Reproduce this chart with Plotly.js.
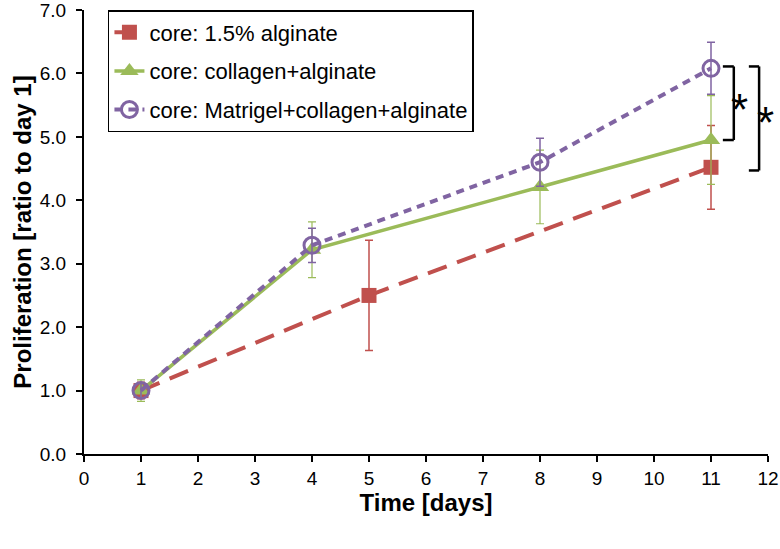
<!DOCTYPE html>
<html>
<head>
<meta charset="utf-8">
<script src="https://cdn.plot.ly/plotly-3.0.1.min.js"></script>
<style>html,body{margin:0;padding:0;background:#fff;}#chart{width:780px;height:549px;}</style>
</head>
<body>
<div id="chart"></div>
<script>
const seriesNames = ["core: 1.5% alginate", "core: collagen+alginate", "core: Matrigel+collagen+alginate"];
const alginateDays = [1, 5, 11];
const alginateValues = [1.0, 2.50, 4.52];
const alginateErrors = [0.13, 0.87, 0.66];
const collagenDays = [1, 4, 8, 11];
const collagenValues = [1.0, 3.22, 4.21, 4.95];
const collagenErrors = [0.17, 0.44, 0.58, 0.70];
const matrigelDays = [1, 4, 8, 11];
const matrigelValues = [1.0, 3.29, 4.60, 6.08];
const matrigelErrors = [0.12, 0.27, 0.38, 0.41];
const xTicks = [0,1,2,3,4,5,6,7,8,9,10,11,12];
const yTicks = [0,1,2,3,4,5,6,7];
const yTickLabels = ["0.0","1.0","2.0","3.0","4.0","5.0","6.0","7.0"];

const red = "#C0504D", green = "#9BBB59", purple = "#8064A2";
const font = "Arial, 'Liberation Sans', sans-serif";

const traces = [
  {x: alginateDays, y: alginateValues, name: seriesNames[0], legendgroup: "a",
   type: "scatter", mode: "lines+markers",
   line: {color: red, width: 4, dash: "20px,11px"},
   marker: {symbol: "square", size: 15, color: red},
   error_y: {type: "data", array: alginateErrors, visible: true, color: red, thickness: 1.5, width: 4}},
  {x: collagenDays, y: collagenValues, name: seriesNames[1], legendgroup: "b",
   type: "scatter", mode: "lines+markers",
   line: {color: green, width: 3.5},
   marker: {symbol: "triangle-up", size: 16, color: green},
   error_y: {type: "data", array: collagenErrors, visible: true, color: green, thickness: 1.2, width: 4}},
  {x: matrigelDays, y: matrigelValues, name: seriesNames[2], legendgroup: "c",
   type: "scatter", mode: "lines+markers",
   line: {color: purple, width: 4, dash: "8px,6px"},
   marker: {symbol: "circle-open", size: 16, color: purple, line: {width: 3, color: purple}},
   error_y: {type: "data", array: matrigelErrors, visible: true, color: purple, thickness: 1.5, width: 4}}
];

const topY = matrigelValues[3];
const midY = collagenValues[3];
const lowY = alginateValues[2];
const bl = {color: "black", width: 2.5};
function bracket(x0, x1, y0, y1) {
  return [
    {type: "line", xref: "paper", yref: "y", x0: x0, x1: x1, y0: y0, y1: y0, line: bl},
    {type: "line", xref: "paper", yref: "y", x0: x1, x1: x1, y0: y0, y1: y1, line: bl},
    {type: "line", xref: "paper", yref: "y", x0: x0, x1: x1, y0: y1, y1: y1, line: bl}
  ];
}
const allShapes = [].concat(
  bracket(0.934, 0.950, topY + 0.03, midY),
  bracket(0.972, 0.987, topY + 0.03, lowY - 0.05)
);

const layout = {
  width: 780, height: 549,
  margin: {l: 84, r: 12, t: 10, b: 95},
  paper_bgcolor: "#fff", plot_bgcolor: "#fff",
  font: {family: font, color: "#000", size: 18},
  showlegend: true,
  legend: {x: 0.035, y: 1.0, xanchor: "left", yanchor: "top",
    bordercolor: "#000", borderwidth: 1.5, bgcolor: "#fff",
    font: {family: font, size: 22, color: "#000"},
    traceorder: "grouped", tracegroupgap: 7},
  xaxis: {range: [0, 12], tickvals: xTicks, ticktext: xTicks.map(String),
    showgrid: false, zeroline: false, showline: true, linecolor: "#000", linewidth: 2,
    ticks: "outside", ticklen: 6, tickwidth: 2, tickcolor: "#000",
    tickfont: {family: font, size: 19, color: "#000"},
    title: {text: "<b>Time [days]</b>", font: {family: font, size: 24, color: "#000"}, standoff: 0}},
  yaxis: {range: [0, 7], tickvals: yTicks, ticktext: yTickLabels,
    showgrid: false, zeroline: false, showline: true, linecolor: "#000", linewidth: 2,
    ticks: "outside", ticklen: 6, tickwidth: 2, tickcolor: "#000",
    ticklabelstandoff: 6, ticklabeloverflow: "allow",
    tickfont: {family: font, size: 19, color: "#000"},
    title: {text: "<b>Proliferation [ratio to day 1]</b>", font: {family: font, size: 24, color: "#000"}, standoff: 1}},
  shapes: allShapes,
  annotations: [
    {xref: "paper", yref: "y", x: 0.966, y: (topY + midY) / 2, text: "*", showarrow: false,
     font: {family: font, size: 44, color: "#000"}, yshift: -5, xshift: 5},
    {xref: "paper", yref: "y", x: 1.006, y: (topY + lowY) / 2, text: "*", showarrow: false,
     font: {family: font, size: 44, color: "#000"}, yshift: -5, xshift: 4}
  ]
};

Plotly.newPlot("chart", traces, layout, {displayModeBar: false, staticPlot: true});
</script>
</body>
</html>
